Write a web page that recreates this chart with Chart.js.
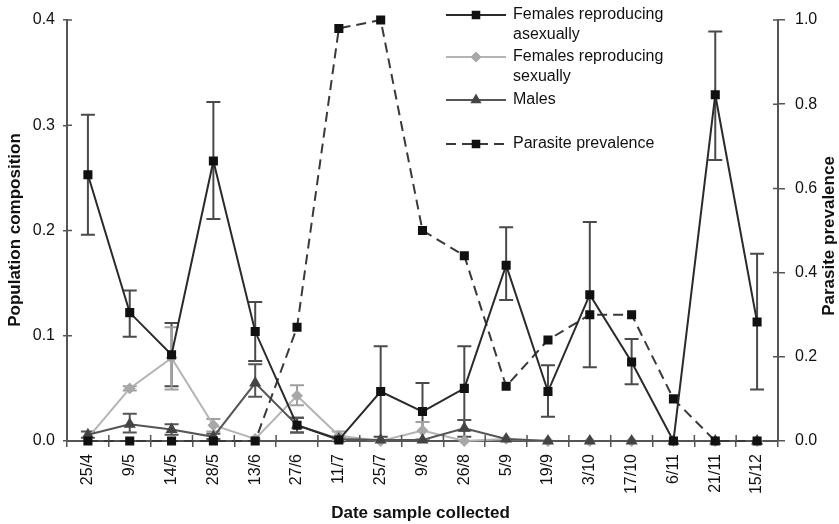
<!DOCTYPE html>
<html>
<head>
<meta charset="utf-8">
<script src="https://cdn.jsdelivr.net/npm/chart.js@4.4.1/dist/chart.umd.min.js"></script>
<style>
html,body{margin:0;padding:0;background:#fff;}
#wrap{width:839px;height:524px;position:relative;}
</style>
</head>
<body>
<div id="wrap"><canvas id="c" width="839" height="524"></canvas></div>
<script>
const categories = ["25/4","9/5","14/5","28/5","13/6","27/6","11/7","25/7","9/8","26/8","5/9","19/9","3/10","17/10","6/11","21/11","15/12"];

const asexual      = [0.253,0.122,0.082,0.266,0.104,0.015,0.001,0.047,0.028,0.050,0.167,0.047,0.139,0.075,0.000,0.329,0.113];
const asexualUpper = [0.310,0.143,0.112,0.322,0.132,0.022,0.004,0.090,0.055,0.090,0.203,0.072,0.208,0.097,null,0.389,0.178];
const asexualLower = [0.196,0.099,0.052,0.211,0.076,0.008,0.000,0.004,0.001,0.010,0.134,0.023,0.070,0.054,null,0.267,0.049];

const sexual      = [0.003,0.050,0.079,0.015,0.002,0.043,0.005,0.000,0.010,0.000,0.002,0,0,0,0,0,0];
const sexualUpper = [null,0.052,0.108,0.021,null,0.053,0.009,null,0.018,null,null,null,null,null,null,null,null];
const sexualLower = [null,0.048,0.049,0.009,null,0.034,0.001,null,0.002,null,null,null,null,null,null,null,null];

const males      = [0.006,0.016,0.011,0.004,0.055,0.015,0.002,0.001,0.001,0.012,0.002,0,0,0,0,0,0];
const malesUpper = [0.009,0.026,0.016,0.007,0.073,0.022,null,null,null,0.020,null,null,null,null,null,null,null];
const malesLower = [0.003,0.008,0.006,0.002,0.042,0.008,null,null,null,0.004,null,null,null,null,null,null,null];

const parasite = [0,0,0,0,0,0.27,0.98,1.00,0.50,0.44,0.13,0.24,0.30,0.30,0.10,0,0];

const leftTicks = [0,0.1,0.2,0.3,0.4];
const rightTicks = [0,0.2,0.4,0.6,0.8,1.0];

const FONT = '"Liberation Sans", Arial, sans-serif';
const AXIS = '#555';

const errorBars = {
  id:'errorBars',
  beforeDatasetsDraw(chart){
    const ctx = chart.ctx;
    chart.data.datasets.forEach((ds,di)=>{
      if(!ds.errUpper) return;
      const meta = chart.getDatasetMeta(di);
      const ys = chart.scales[ds.yAxisID];
      ctx.save();
      ctx.strokeStyle = ds.errColor;
      ctx.lineWidth = 2;
      ds.errUpper.forEach((u,i)=>{
        const l = ds.errLower[i];
        if(u==null) return;
        const x = meta.data[i].x;
        const yu = ys.getPixelForValue(u), yl = ys.getPixelForValue(l);
        ctx.beginPath();
        ctx.moveTo(x,yu); ctx.lineTo(x,yl);
        ctx.moveTo(x-7,yu); ctx.lineTo(x+7,yu);
        ctx.moveTo(x-7,yl); ctx.lineTo(x+7,yl);
        ctx.stroke();
      });
      ctx.restore();
    });
  }
};

const extras = {
  id:'extras',
  afterDraw(chart){
    const ctx = chart.ctx;
    const a = chart.chartArea;
    const xs = chart.scales.x, yl = chart.scales.y, yr = chart.scales.y2;
    ctx.save();
    ctx.strokeStyle = AXIS;
    ctx.lineWidth = 1.5;
    const sp = xs.getPixelForTick(1) - xs.getPixelForTick(0);
    ctx.beginPath();
    for(let i=0;i<=categories.length;i++){
      const x = xs.getPixelForTick(0) - sp/2 + i*sp;
      ctx.moveTo(x,a.bottom); ctx.lineTo(x,a.bottom-6);
    }
    leftTicks.forEach(v=>{const y=yl.getPixelForValue(v); ctx.moveTo(a.left,y); ctx.lineTo(a.left+5,y);});
    rightTicks.forEach(v=>{const y=yr.getPixelForValue(v); ctx.moveTo(a.right,y); ctx.lineTo(a.right-5,y);});
    ctx.stroke();

    ctx.fillStyle = '#111';
    ctx.font = 'bold 17px ' + FONT;
    ctx.textAlign = 'center';
    ctx.textBaseline = 'middle';
    ctx.fillText('Date sample collected', (a.left+a.right)/2 - 2, 513);
    ctx.save(); ctx.translate(15,230); ctx.rotate(-Math.PI/2); ctx.fillText('Population composition',0,0); ctx.restore();
    ctx.save(); ctx.translate(829,236); ctx.rotate(-Math.PI/2); ctx.fillText('Parasite prevalence',0,0); ctx.restore();

    const items = [
      {ds:0, lines:['Females reproducing','asexually'], y:15},
      {ds:1, lines:['Females reproducing','sexually'], y:57},
      {ds:2, lines:['Males'], y:100},
      {ds:3, lines:['Parasite prevalence'], y:144}
    ];
    ctx.font = '16px ' + FONT;
    ctx.textAlign = 'left';
    items.forEach(it=>{
      const ds = chart.data.datasets[it.ds];
      ctx.save();
      ctx.strokeStyle = ds.borderColor;
      ctx.lineWidth = ds.borderWidth;
      ctx.setLineDash(ds.borderDash || []);
      ctx.beginPath(); ctx.moveTo(446,it.y); ctx.lineTo(506,it.y); ctx.stroke();
      ctx.restore();
      ctx.save();
      ctx.fillStyle = ds.pointBackgroundColor;
      ctx.strokeStyle = ds.pointBorderColor;
      Chart.helpers.drawPoint(ctx,{pointStyle:ds.pointStyle, radius:ds.pointRadius, borderWidth:1, rotation:0},476,it.y);
      ctx.restore();
      ctx.fillStyle = '#111';
      it.lines.forEach((t,k)=>ctx.fillText(t,513,it.y+k*20));
    });
    ctx.restore();
  }
};

new Chart(document.getElementById('c'),{
  type:'line',
  data:{
    labels:categories,
    datasets:[
      {label:'Females reproducing asexually', data:asexual, yAxisID:'y', order:0, clip:false,
       borderColor:'#2a2a2a', borderWidth:2, pointStyle:'rect', pointRadius:5,
       pointBackgroundColor:'#111', pointBorderColor:'#111',
       errUpper:asexualUpper, errLower:asexualLower, errColor:'#4a4a4a'},
      {label:'Females reproducing sexually', data:sexual, yAxisID:'y', order:3, clip:false,
       borderColor:'#b4b4b4', borderWidth:2, pointStyle:'rectRot', pointRadius:4.5,
       pointBackgroundColor:'#a8a8a8', pointBorderColor:'#a8a8a8',
       errUpper:sexualUpper, errLower:sexualLower, errColor:'#a0a0a0'},
      {label:'Males', data:males, yAxisID:'y', order:2, clip:false,
       borderColor:'#555', borderWidth:2, pointStyle:'triangle', pointRadius:5,
       pointBackgroundColor:'#444', pointBorderColor:'#444',
       errUpper:malesUpper, errLower:malesLower, errColor:'#555'},
      {label:'Parasite prevalence', data:parasite, yAxisID:'y2', order:1, clip:false,
       borderColor:'#3a3a3a', borderWidth:2, borderDash:[10,6], pointStyle:'rect', pointRadius:5,
       pointBackgroundColor:'#111', pointBorderColor:'#111'}
    ]
  },
  options:{
    responsive:false,
    animation:false,
    layout:{padding:{top:20,left:0,right:0,bottom:0}},
    plugins:{legend:{display:false}, tooltip:{enabled:false}},
    elements:{line:{tension:0}},
    scales:{
      x:{
        type:'category', offset:true,
        grid:{offset:true, drawOnChartArea:false, tickLength:6, color:AXIS, lineWidth:1.5},
        border:{color:AXIS, width:2},
        ticks:{minRotation:90, maxRotation:90, autoSkip:false, padding:7, color:'#111', font:{family:FONT,size:16}},
        afterFit(s){ s.height = 83; }
      },
      y:{
        position:'left', min:0, max:0.4,
        afterBuildTicks(s){ s.ticks = leftTicks.map(v=>({value:v})); },
        grid:{drawOnChartArea:false, tickLength:4, color:AXIS, lineWidth:1.5},
        border:{color:AXIS, width:2},
        ticks:{padding:8, color:'#111', font:{family:FONT,size:16}, callback:v=>Number(v).toFixed(1)},
        afterFit(s){ s.width = 67; }
      },
      y2:{
        position:'right', min:0, max:1,
        afterBuildTicks(s){ s.ticks = rightTicks.map(v=>({value:v})); },
        grid:{drawOnChartArea:false, tickLength:7, color:AXIS, lineWidth:1.5},
        border:{color:AXIS, width:2},
        ticks:{padding:10, color:'#111', font:{family:FONT,size:16}, callback:v=>Number(v).toFixed(1)},
        afterFit(s){ s.width = 61; }
      }
    }
  },
  plugins:[errorBars, extras]
});
</script>
</body>
</html>
